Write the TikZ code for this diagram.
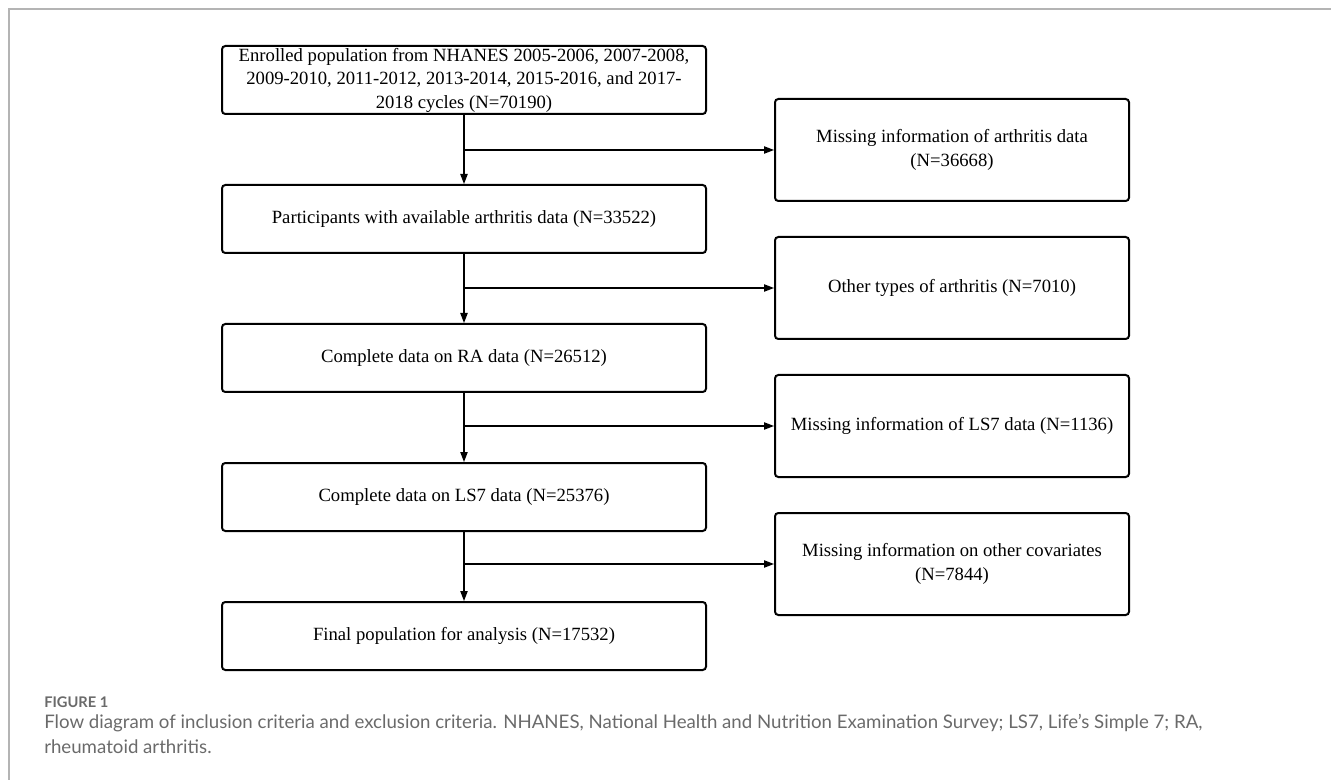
\documentclass[tikz,border=0pt]{standalone}
\usepackage{fontspec}
\setmainfont{Liberation Serif}
\newfontfamily\capfont{Lato}
\usetikzlibrary{arrows.meta}

\definecolor{framegray}{HTML}{B4B4B4}
\definecolor{capgray}{HTML}{6A6A6A}

\begin{document}
\begin{tikzpicture}[x=0.75pt,y=-0.75pt,>={Triangle[length=7.5pt,width=5.5pt]}]
\tikzstyle{stepbox}=[draw,line width=1.5pt,rounded corners=2.5pt,align=center,
  font=\fontsize{14}{17.6}\selectfont,inner sep=0pt]
\tikzstyle{keepbox}=[stepbox,minimum width=363pt,minimum height=51pt]
\tikzstyle{dropbox}=[stepbox,minimum width=265.5pt,minimum height=76.5pt]
\tikzstyle{flow}=[->,line width=0.9pt]
\useasboundingbox (0,0) rectangle (1331,780);
\draw[framegray,line width=1.5pt] (1331,9) -- (9,9) -- (9,780);

\node[keepbox] (enrolled) at (464,80) {Enrolled population from NHANES 2005-2006, 2007-2008,\\
  2009-2010, 2011-2012, 2013-2014, 2015-2016, and 2017-\\2018 cycles (N=70190)};
\node[keepbox] (arthritis) at (464,219) {Participants with available arthritis data (N=33522)};
\node[keepbox] (ra) at (464,358) {Complete data on RA data (N=26512)};
\node[keepbox] (ls7) at (464,497) {Complete data on LS7 data (N=25376)};
\node[keepbox] (final) at (464,636) {Final population for analysis (N=17532)};

\node[dropbox] (noarth) at (952,150) {Missing information of arthritis data\\(N=36668)};
\node[dropbox] (othertype) at (952,288) {Other types of arthritis (N=7010)};
\node[dropbox] (nols7) at (952,426) {Missing information of LS7 data (N=1136)};
\node[dropbox] (nocov) at (952,564) {Missing information on other covariates\\(N=7844)};

\draw[flow] (enrolled) -- (arthritis);
\draw[flow] (arthritis) -- (ra);
\draw[flow] (ra) -- (ls7);
\draw[flow] (ls7) -- (final);
\draw[flow] (enrolled.south |- noarth.west) -- (noarth.west);
\draw[flow] (arthritis.south |- othertype.west) -- (othertype.west);
\draw[flow] (ra.south |- nols7.west) -- (nols7.west);
\draw[flow] (ls7.south |- nocov.west) -- (nocov.west);

\node[anchor=base west,inner sep=0pt,text=capgray,font=\capfont\bfseries\fontsize{11}{13}\selectfont]
  (figlabel) at (44,707) {FIGURE 1};
\node[anchor=base west,inner sep=0pt,text=capgray,align=left,font=\capfont\fontsize{14}{18.75}\selectfont]
  (caption) at (44,753) {Flow diagram of inclusion criteria and exclusion criteria. NHANES, National Health and Nutrition Examination Survey; LS7, Life’s Simple 7; RA,\\rheumatoid arthritis.};
\end{tikzpicture}
\end{document}
